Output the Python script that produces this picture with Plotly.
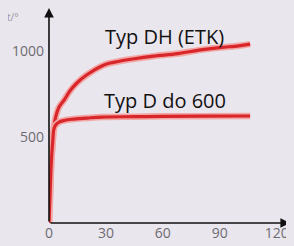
import plotly.graph_objects as go

# Data
x_dh = [0, 0.5, 1.2, 2.0, 2.6, 3.5, 5.3, 8, 11, 14.7, 20, 29, 34, 45, 55, 68, 79, 90, 100, 106]
y_dh = [0, 150, 350, 480, 558, 615, 674, 715, 767, 814, 862, 919, 934, 955, 970, 985, 1005, 1020, 1030, 1040]

x_d = [0, 0.5, 1.2, 2.0, 2.6, 3.5, 5.3, 8, 12, 20, 28, 45, 60, 80, 106]
y_d = [0, 150, 350, 480, 547, 570, 587, 596, 603, 610, 616, 618, 620, 621, 622]

x_ticks = [0, 30, 60, 90, 120]
y_ticks = [500, 1000]
label_dh = "Typ DH (ETK)"
label_d = "Typ D do 600"
y_title = "t/°"

X_MAX = 127
Y_MAX = 1250
BG = "#e9e6ee"
RED = "#d8262b"
GLOW = "#f2a7a4"

fig = go.Figure()
for xs, ys in [(x_dh, y_dh), (x_d, y_d)]:
    fig.add_trace(go.Scatter(x=xs, y=ys, mode="lines", line=dict(color=GLOW, width=6.5, shape="spline"),
                             hoverinfo="skip", showlegend=False, cliponaxis=False))
    fig.add_trace(go.Scatter(x=xs, y=ys, mode="lines", line=dict(color=RED, width=3.2, shape="spline"),
                             showlegend=False, cliponaxis=False))

# axes with arrows
fig.add_annotation(x=X_MAX, y=0, ax=0, ay=0, xref="x", yref="y", axref="x", ayref="y",
                   showarrow=True, arrowhead=2, arrowsize=1.2, arrowwidth=1.6, arrowcolor="#111", text="")
fig.add_annotation(x=0, y=Y_MAX, ax=0, ay=0, xref="x", yref="y", axref="x", ayref="y",
                   showarrow=True, arrowhead=2, arrowsize=1.2, arrowwidth=1.6, arrowcolor="#111", text="")

fig.add_annotation(x=61, y=1087, text=label_dh, showarrow=False,
                   font=dict(family="Open Sans", size=20, color="#111"))
fig.add_annotation(x=61, y=715, text=label_d, showarrow=False,
                   font=dict(family="Open Sans", size=20, color="#111"))
fig.add_annotation(x=-0.15, y=0.96, xref="paper", yref="paper", text=y_title, showarrow=False,
                   xanchor="center", yanchor="middle", font=dict(family="Open Sans", size=10, color="#9a98a0"))

tick_font = dict(family="Open Sans", size=14, color="#6e6c72")
fig.update_layout(
    width=286, height=238,
    margin=dict(l=41, r=4, t=0, b=23, autoexpand=False),
    paper_bgcolor=BG, plot_bgcolor=BG,
    xaxis=dict(range=[0, X_MAX], tickvals=x_ticks, ticktext=[str(v) for v in x_ticks],
               showgrid=False, zeroline=False, showline=False, ticks="", automargin=False,
               ticklabelstandoff=0, tickfont=tick_font, fixedrange=True),
    yaxis=dict(range=[0, Y_MAX], tickvals=y_ticks, ticktext=[str(v) for v in y_ticks],
               showgrid=False, zeroline=False, showline=False, ticks="", automargin=False,
               ticklabelstandoff=4, tickfont=tick_font, fixedrange=True),
)

fig.write_html("out.html", post_script="document.body.style.background='%s';" % BG)
